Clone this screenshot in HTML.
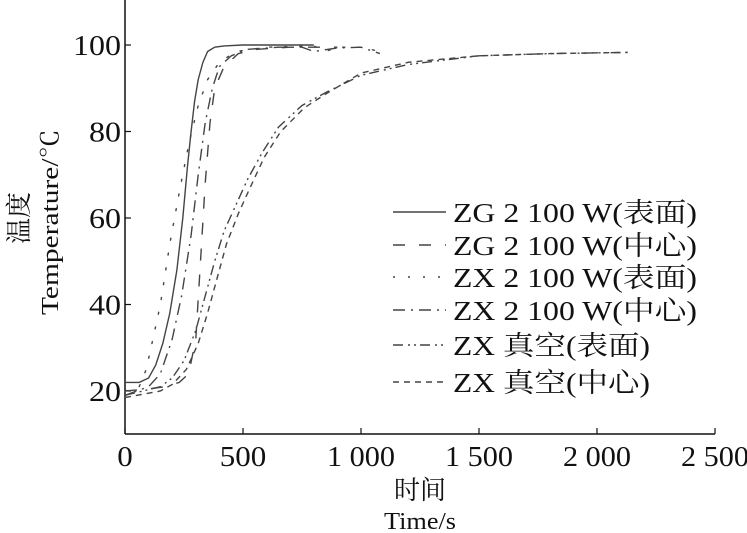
<!DOCTYPE html>
<html><head><meta charset="utf-8"><style>
body{margin:0;background:#fff;width:747px;height:533px;overflow:hidden}
svg{display:block}
text{font-family:"Liberation Serif","Noto Serif CJK SC",serif;fill:#111}
</style></head><body>
<svg id="chart" width="747" height="533" viewBox="0 0 747 533" xmlns="http://www.w3.org/2000/svg">
<g id="axes"></g>
<g id="series"></g>
<g id="legend"></g>
<text x="420" y="499" font-size="26" text-anchor="middle">时间</text>
<text x="420" y="529" font-size="24" text-anchor="middle" textLength="72" lengthAdjust="spacingAndGlyphs">Time/s</text>
<text transform="translate(28,218) rotate(-90)" font-size="26" text-anchor="middle">温度</text>
<text transform="translate(58,222) rotate(-90)" font-size="24" text-anchor="middle" textLength="186" lengthAdjust="spacingAndGlyphs">Temperature/℃</text>
</svg>
<script>
const xTicks=[0,500,1000,1500,2000,2500];
const xTickLabels=["0","500","1 000","1 500","2 000","2 500"];
const yTicks=[20,40,60,80,100];
const seriesNames=["ZG 2 100 W(表面)","ZG 2 100 W(中心)","ZX 2 100 W(表面)","ZX 2 100 W(中心)","ZX 真空(表面)","ZX 真空(中心)"];
const zgSurfT=[0,60,100,130,160,190,220,245,265,280,295,310,330,350,380,420,500,800];
const zgSurfV=[22,22,23,26,31,38,48,60,72,80,87,92,96,98.5,99.5,99.8,100,100];
const zgCenT=[0,100,170,230,270,300,320,340,360,380,420,480,560,700,900];
const zgCenV=[20,20.5,21,22,24,32,50,68,82,90,95,98,99,99.5,99.5];
const zxSurfT=[0,60,90,110,150,190,230,270,310,350,400,470,600,800,850,900,1000,1080];
const zxSurfV=[20,21,25,30,40,54,66,77,86,92,96,98.5,99.5,99.8,98.5,99.5,99.5,98.5];
const zxCenT=[0,100,150,200,240,280,310,340,370,400,450,520,650,750,800,900,1000,1080];
const zxCenV=[19,21,24,32,42,56,70,82,90,95,97.5,99,99.5,99.5,98.5,99.3,99.5,98];
const vacSurfT=[0,150,200,250,300,340,380,420,470,520,580,650,750,850,1000,1200,1500,1800,2130];
const vacSurfV=[19,21,23,27,34,42,50,57,63,69,75,81,86,89,93,95.5,97.5,98,98.3];
const vacCenT=[0,150,200,260,310,350,390,430,480,530,590,660,760,860,1000,1200,1500,1800,2130];
const vacCenV=[18.5,20,21.5,25,31,38,46,54,61,67,74,80,85.5,89,93.5,96,97.5,98,98.3];
const allT=[zgSurfT,zgCenT,zxSurfT,zxCenT,vacSurfT,vacCenT];
const allV=[zgSurfV,zgCenV,zxSurfV,zxCenV,vacSurfV,vacCenV];
const dashes=["", "12 14","2 13","12 6 2 6","10 5 2 4 2 4","6 5"];
const X=t=>125+t*(715-125)/2500;
const Y=v=>45+(100-v)*(391-45)/80;
const NS="http://www.w3.org/2000/svg";
function mk(tag,attrs,parent){const e=document.createElementNS(NS,tag);for(const k in attrs)e.setAttribute(k,attrs[k]);parent.appendChild(e);return e;}
const ax=document.getElementById('axes');
let a=mk('line',{x1:125,y1:0,x2:125,y2:434,stroke:'#111','stroke-width':1.5},ax);


a=mk('line',{x1:125,y1:434,x2:715,y2:434,stroke:'#111','stroke-width':1.5},ax);


xTicks.forEach((t,i)=>{
 const l=mk('line',{x1:X(t),y1:434,x2:X(t),y2:428,stroke:'#111','stroke-width':1.2},ax);
 
 
 const lab=xTickLabels[i];
 const digits=lab.replace(/ /g,'').length, spaces=lab.length-digits;
 const w=digits*15.5+spaces*6;
 const tx=mk('text',{x:X(t),y:466,'font-size':28,'text-anchor':'middle',textLength:w,lengthAdjust:'spacingAndGlyphs'},ax);
 tx.textContent=lab;
 
 
});
yTicks.forEach(v=>{
 const l=mk('line',{x1:125,y1:Y(v),x2:131,y2:Y(v),stroke:'#111','stroke-width':1.2},ax);
 
 
 const s=String(v);
 const tx=mk('text',{x:121,y:Y(v)+10,'font-size':28,'text-anchor':'end',textLength:s.length*16,lengthAdjust:'spacingAndGlyphs'},ax);
 tx.textContent=s;
 
 
});
const sg=document.getElementById('series');
allT.forEach((ts,i)=>{
 const d=ts.map((t,j)=>(j?'L':'M')+X(t).toFixed(1)+','+Y(allV[i][j]).toFixed(1)).join('');
 const p=mk('path',{d:d,fill:'none',stroke:'#444','stroke-width':1.4,'stroke-dasharray':dashes[i],'stroke-linecap':i==2?'round':'butt'},sg);
 
 
});
const lg=document.getElementById('legend');
const rowY=[212,245,277,310,345,382];
const legLen=[244,244,244,244,197,197];
seriesNames.forEach((n,i)=>{
 const l=mk('line',{x1:393,y1:rowY[i],x2:446,y2:rowY[i],stroke:'#444','stroke-width':1.4,'stroke-dasharray':dashes[i]},lg);
 
 
 const tx=mk('text',{x:453,y:rowY[i]+10,'font-size':27,textLength:legLen[i],lengthAdjust:'spacingAndGlyphs'},lg);
 tx.textContent=n;
 
 
});
</script>
</body></html>
